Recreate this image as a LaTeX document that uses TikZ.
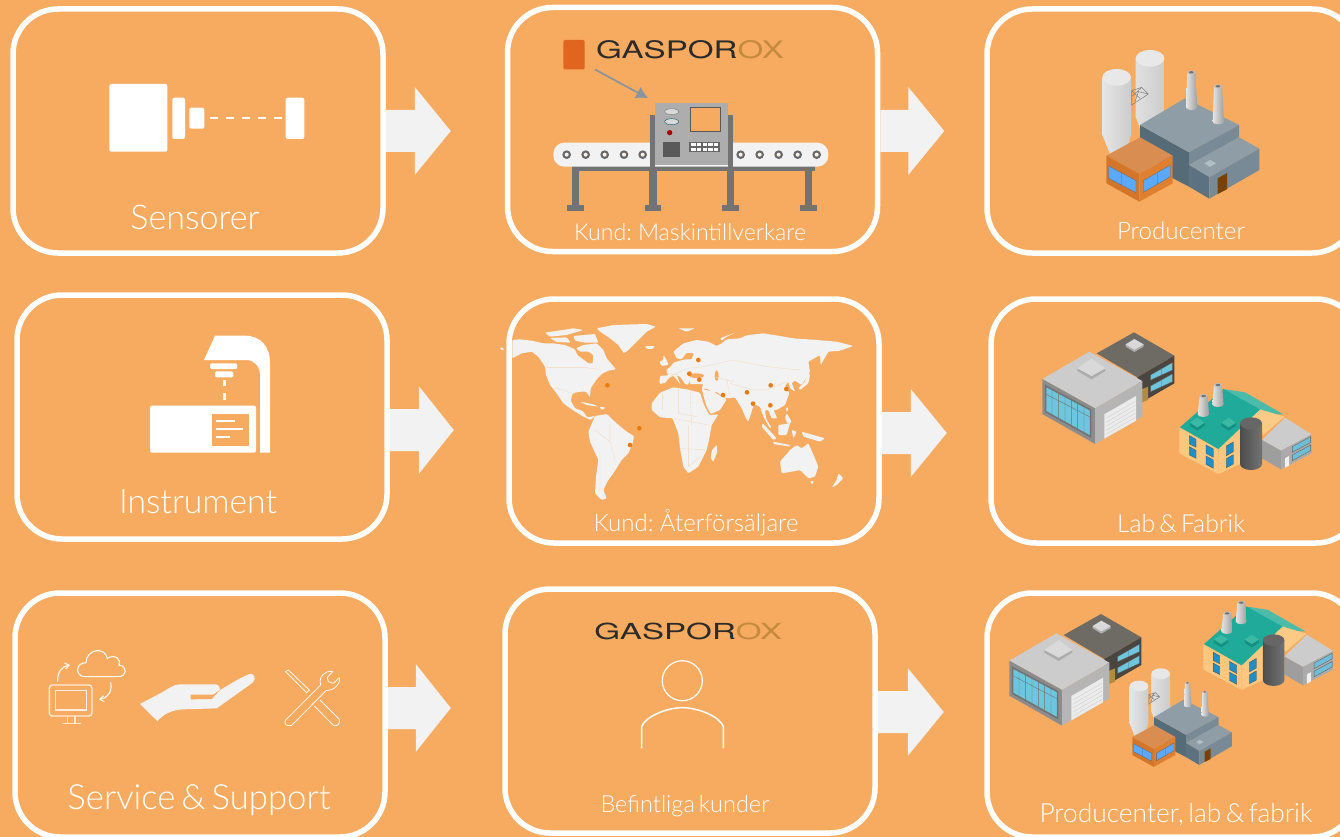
\documentclass[tikz,border=0pt]{standalone}
\usepackage{fontspec}
\setmainfont{Lato}[UprightFont=* Light]
\newfontfamily\logofont{TeX Gyre Heros}
\usetikzlibrary{arrows.meta}
\definecolor{bg}{HTML}{F7AB60}
\definecolor{barrowc}{HTML}{F2F2F2}
\definecolor{mapc}{HTML}{F2F2F2}
\definecolor{dotc}{HTML}{EC7A0C}
\definecolor{logodark}{HTML}{2B2B2B}
\definecolor{logoor}{HTML}{C48A3E}
\definecolor{leg}{HTML}{737373}
\tikzset{
  panel/.style={draw=white,line width=5.5pt,rounded corners=45pt,minimum width=370pt,minimum height=244pt,inner sep=0pt},
  barrow/.style={fill=barrowc},
  lbl/.style={text=white,anchor=base,inner sep=0pt},
  ico/.style={fill=white,rounded corners=2pt},
  thinico/.style={draw=white!92!bg,line width=1.1pt},
  logo/.style={inner sep=0pt,anchor=center},
  mapland/.style={fill=mapc,rounded corners=1pt},
  mapline/.style={draw=bg!35!mapc,line width=.35pt},
  citydot/.style={fill=dotc},
}
% block arrow leaving a panel: node, vertical offset, shaft length, head length
\newcommand\blockarr[4]{\fill[barrow] (#1.east) ++(0,#2) ++(0,-21) -- ++(#3,0) -- ++(0,-23) -- ++(#4,44) -- ++(-#4,44) -- ++(0,-23) -- ++(-#3,0) -- cycle;}
\newcommand\lab[4]{\node[lbl] (#1) at (#2) {\resizebox{#3pt}{!}{\fontsize{36}{40}\selectfont\spaceskip=.17em #4}};}
\newcommand\gasplogo[3]{\node[logo] (#1) at (#2) {\resizebox{188pt}{#3pt}{\logofont\textcolor{logodark}{GASPOR}\textcolor{logoor}{OX}}};}
% chimney: top x, top y, base x, base y
\newcommand\chim[4]{%
  \path[left color=black!10,right color=black!38] (#1-12,#2) -- (#3-17,#4) arc[start angle=180,end angle=360,x radius=17,y radius=-8] -- (#1+12,#2) -- cycle;
  \fill[black!25] (#1,#2) ellipse[x radius=12,y radius=6];
  \fill[black!55] (#1,#2) ellipse[x radius=7,y radius=3.5];}
\newcommand\factoryA{%
  % silos
  \path[left color=black!12,right color=black!20] (407,85) -- (407,260) -- (430,320) -- (480,320) -- (493,260) -- (493,85) -- cycle;
  \fill[black!9] (450,85) ellipse[x radius=43,y radius=25];
  \path[left color=black!10,right color=black!20] (307,142) -- (307,315) -- (330,372) -- (375,372) -- (393,315) -- (393,142) -- cycle;
  \fill[black!9] (350,142) ellipse[x radius=43,y radius=25];
  \draw[black!50,line width=.5pt] (395,182) -- (425,172) -- (445,192) -- (395,225) -- cycle (395,200) -- (425,172) (405,215) -- (415,185) -- (445,192) (395,182) -- (420,205);
  % main block
  \fill[fill={rgb,255:red,86;green,107;blue,120}] (420,285) -- (567,367) -- (567,470) -- (500,435) -- (420,345) -- cycle;
  \fill[fill={rgb,255:red,143;green,158;blue,166}] (420,285) -- (555,205) -- (717,285) -- (567,367) -- cycle;
  \fill[fill={rgb,255:red,120;green,138;blue,149}] (567,367) -- (717,285) -- (717,322) -- (567,405) -- cycle;
  % lower block
  \fill[fill={rgb,255:red,143;green,158;blue,166}] (567,405) -- (717,322) -- (778,356) -- (628,442) -- cycle;
  \fill[fill={rgb,255:red,93;green,114;blue,128}] (567,405) -- (628,442) -- (628,506) -- (567,470) -- cycle;
  \fill[fill={rgb,255:red,120;green,138;blue,149}] (628,442) -- (778,356) -- (778,420) -- (628,506) -- cycle;
  \fill[fill={rgb,255:red,122;green,66;blue,0}] (653,445) -- (681,429) -- (681,478) -- (653,492) -- cycle;
  \fill[fill={rgb,255:red,176;green,190;blue,197}] (613,400) -- (630,390) -- (648,400) -- (630,411) -- cycle;
  \chim{574}{127}{575}{232}
  \chim{654}{169}{655}{275}
  % orange block
  \fill[fill={rgb,255:red,217;green,141;blue,80}] (319,377) -- (420,322) -- (518,377) -- (418,432) -- cycle;
  \fill[fill={rgb,255:red,212;green,118;blue,42}] (319,377) -- (418,432) -- (418,515) -- (319,460) -- cycle;
  \fill[fill={rgb,255:red,222;green,128;blue,48}] (418,432) -- (518,377) -- (518,460) -- (418,515) -- cycle;
  \filldraw[fill={rgb,255:red,90;green,169;blue,255},draw=black!60,line width=.3pt] (326,408) -- (408,452) -- (408,488) -- (326,445) -- cycle (365,430) -- (365,467);
  \filldraw[fill={rgb,255:red,90;green,169;blue,255},draw=black!60,line width=.3pt] (430,452) -- (511,405) -- (511,440) -- (430,487) -- cycle (472,429) -- (472,464);
}
\newcommand\factoryB{%
  \fill[fill={rgb,255:red,110;green,106;blue,100}] (290,100) -- (402,37) -- (523,107) -- (412,172) -- cycle;
  \fill[fill={rgb,255:red,74;green,69;blue,64}] (412,172) -- (523,107) -- (523,190) -- (428,245) -- (412,245) -- cycle;
  \fill[fill={rgb,255:red,176;green,139;blue,64}] (425,208) -- (444,200) -- (444,240) -- (425,247) -- cycle;
  \filldraw[fill={rgb,255:red,110;green,198;blue,222},draw=black!60,line width=.3pt] (452,165) -- (517,128) -- (517,150) -- (452,180) -- cycle (484,147) -- (484,165);
  \filldraw[fill={rgb,255:red,110;green,198;blue,222},draw=black!60,line width=.3pt] (452,198) -- (517,162) -- (517,185) -- (452,215) -- cycle (484,180) -- (484,200);
  \fill[black!32] (377,73) -- (377,80) -- (403,96) -- (431,80) -- (431,73) -- cycle;
  \fill[black!15] (377,73) -- (403,57) -- (431,73) -- (403,89) -- cycle;
  % big grey hall
  \fill[black!20] (127,177) -- (268,95) -- (427,183) -- (285,265) -- cycle;
  \fill[black!45] (127,177) -- (285,265) -- (285,372) -- (127,282) -- cycle;
  \fill[black!29] (285,265) -- (427,183) -- (427,290) -- (285,372) -- cycle;
  \filldraw[fill={rgb,255:red,110;green,198;blue,222},draw=black!55,line width=1.6pt] (137,198) -- (272,270) -- (272,350) -- (137,275) -- cycle;
  \draw[black!55,line width=.4pt] (137,222) -- (272,292) (156,209) -- (156,285) (176,219) -- (176,296) (195,230) -- (195,307) (214,240) -- (214,318) (233,250) -- (233,329) (252,260) -- (252,340);
  \fill[black!8] (313,283) -- (408,228) -- (408,302) -- (313,356) -- cycle;
  \draw[black!20,line width=.3pt] (318,295) -- (406,244) (318,307) -- (406,256) (318,319) -- (406,268) (318,331) -- (406,280) (318,343) -- (406,292);
  \fill[black!32] (232,145) -- (232,153) -- (275,178) -- (316,153) -- (316,145) -- cycle;
  \fill[black!15] (232,145) -- (275,115) -- (316,145) -- (275,168) -- cycle;
}
\newcommand\factoryC{%
  \fill[fill={rgb,255:red,77;green,187;blue,170}] (670,207) -- (735,217) -- (850,283) -- (755,283) -- cycle;
  \fill[fill={rgb,255:red,251;green,203;blue,133}] (780,268) -- (853,290) -- (790,345) -- (755,290) -- cycle;
  \fill[fill={rgb,255:red,253;green,199;blue,127}] (538,322) -- (655,387) -- (655,462) -- (538,400) -- cycle;
  \fill[fill={rgb,255:red,253;green,199;blue,127}] (655,387) -- (725,320) -- (725,430) -- (655,462) -- cycle;
  \fill[fill={rgb,255:red,31;green,170;blue,154}] (540,322) -- (670,207) -- (780,268) -- (655,387) -- cycle;
  \fill[fill={rgb,255:red,20;green,145;blue,130}] (570,308) -- (570,318) -- (592,332) -- (614,318) -- (614,308) -- cycle;
  \fill[fill={rgb,255:red,60;green,185;blue,165}] (570,308) -- (592,293) -- (614,308) -- (592,322) -- cycle;
  \fill[fill={rgb,255:red,20;green,145;blue,130}] (664,308) -- (664,318) -- (686,332) -- (708,318) -- (708,308) -- cycle;
  \fill[fill={rgb,255:red,60;green,185;blue,165}] (664,308) -- (686,293) -- (708,308) -- (686,322) -- cycle;
  \chim{611}{228}{610}{283}
  \chim{654}{195}{654}{253}
  \foreach \p in {{(568,347) -- (588,358) -- (588,382) -- (568,372)},{(568,380) -- (588,391) -- (588,415) -- (568,405)},{(618,375) -- (640,387) -- (640,412) -- (618,400)},{(618,408) -- (640,420) -- (640,445) -- (618,433)},{(679,378) -- (700,366) -- (700,395) -- (679,407)},{(679,416) -- (700,404) -- (700,432) -- (679,443)}}
    {\filldraw[fill={rgb,255:red,31;green,143;blue,200},draw=black!70,line width=.3pt] \p -- cycle;}
  % small grey building
  \fill[black!20] (786,360) -- (855,293) -- (935,343) -- (843,392) -- cycle;
  \fill[black!38] (786,360) -- (843,392) -- (843,448) -- (786,415) -- cycle;
  \fill[black!33] (843,392) -- (935,343) -- (935,400) -- (843,448) -- cycle;
  \filldraw[fill={rgb,255:red,110;green,190;blue,215},draw=black!60,line width=.4pt] (877,380) -- (932,350) -- (932,367) -- (877,397) -- cycle;
  \filldraw[fill={rgb,255:red,110;green,190;blue,215},draw=black!60,line width=.4pt] (877,405) -- (932,375) -- (932,392) -- (877,422) -- cycle;
  \fill[black!6] (855,415) -- (867,408) -- (867,437) -- (855,443) -- cycle;
  % tank
  \path[left color=black!70,right color=black!55] (720,310) -- (720,432) arc[start angle=180,end angle=360,x radius=33,y radius=-18] -- (786,310) -- cycle;
  \fill[black!60] (753,310) ellipse[x radius=33,y radius=18];
}
\begin{document}
\begin{tikzpicture}[x=1pt,y=-1pt]
\useasboundingbox (0,0) rectangle (1340,837);
\fill[bg] (0,0) rectangle (1340,837);

% panels
\node[panel] (s1) at (198,131) {};
\node[panel] (m1) at (692.5,129.5) {};
\node[panel] (r1) at (1172,131) {};
\node[panel] (s2) at (202,417) {};
\node[panel] (m2) at (694,421) {};
\node[panel] (r2) at (1176,421) {};
\node[panel] (s3) at (200,715) {};
\node[panel] (m3) at (690,711) {};
\node[panel] (r3) at (1172,715) {};

% block arrows
\blockarr{s1}{0}{29}{36}
\blockarr{m1}{1.5}{28}{36}
\blockarr{s2}{13}{29}{35}
\blockarr{m2}{12}{29}{36}
\blockarr{s3}{-7}{28}{35}
\blockarr{m3}{1}{30}{36}

% labels
\lab{t1}{195,229}{129}{Sensorer}
\lab{t2}{690,240}{232}{Kund: Maskintillverkare}
\lab{t3}{1181,239}{128}{Producenter}
\lab{t4}{198,513}{158}{Instrument}
\lab{t5}{696,531}{205}{Kund: Återförsäljare}
\lab{t6}{1181,532}{128}{Lab \& Fabrik}
\lab{t7}{199,809}{263}{Service \& Support}
\lab{t8}{685,812}{169}{Befintliga kunder}
\lab{t9}{1176,822}{273}{Producenter, lab \& fabrik}

% sensor icon
\fill[ico] (109.3,84) rectangle (167.3,151.7);
\fill[ico] (172.3,97.7) rectangle (185,139);
\fill[ico] (189.3,107.7) rectangle (204.3,128.7);
\fill[ico] (285.7,97.7) rectangle (304.3,139);
\foreach \xx in {210,226,242,258,274} \fill[white] (\xx,116.6) rectangle +(8,2.8);

% instrument icon
\begin{scope}[shift={(130,325)},scale=1/3]
  \fill[white] (222,105) -- (255,32) -- (345,32) .. controls (395,32) and (420,70) .. (420,110) -- (420,383) -- (390,383) -- (390,150) .. controls (390,125) and (372,105) .. (350,105) -- cycle;
  \fill[ico] (240,115) rectangle (322,132);
  \fill[ico] (255,139) rectangle (310,157);
  \fill[white] (278,165) rectangle (288,183);
  \fill[white] (278,203) rectangle (288,225);
  \fill[ico] (60,242) rectangle (378,383);
  \fill[bg] (245,267) rectangle (358,362);
  \fill[white] (257,285) rectangle (315,291);
  \fill[white] (257,310) rectangle (340,316);
  \fill[white] (257,334) rectangle (300,340);
\end{scope}

% service icons
\begin{scope}[shift={(20,630)},scale=1/3]
  \draw[thinico,rounded corners=3pt,line width=1.4pt,draw=white!75!bg] (88,165) rectangle (216,258);
  \draw[thinico,line width=1.2pt,draw=white!80!bg] (106,182) rectangle (200,240);
  \draw[thinico,draw=white!70!bg] (142,258) -- (142,280) (165,258) -- (165,280);
  \draw[thinico,line width=1.6pt,draw=white!70!bg] (125,280) -- (182,280);
  \draw[thinico] (195,140) .. controls (165,140) and (165,98) .. (198,98) .. controls (200,55) and (255,50) .. (262,85) .. controls (285,70) and (305,90) .. (297,105) .. controls (325,110) and (320,140) .. (295,140) -- cycle;
  \draw[thinico,-{Straight Barb[length=4pt,width=6pt]}] (113,155) .. controls (112,125) and (125,110) .. (150,105);
  \draw[thinico,-{Straight Barb[length=4pt,width=6pt]}] (272,157) .. controls (278,185) and (262,205) .. (237,208);
  \fill[barrowc] (360,222) -- (430,185) .. controls (450,172) and (465,163) .. (480,163) -- (585,163) .. controls (598,163) and (600,172) .. (600,180) -- (660,145) -- (688,132) .. controls (700,128) and (712,145) .. (698,158) -- (590,235) -- (490,238) .. controls (450,240) and (430,255) .. (412,273) -- cycle;
  \fill[bg] (512,194) -- (580,194) -- (600,180) -- (575,207) -- (512,208) -- cycle;
  \draw[thinico,line width=.8pt] (797,125) -- (805,120) -- (868,180) -- (860,188) -- cycle;
  \draw[thinico,line width=.8pt] (900,210) -- (958,268) .. controls (962,280) and (950,292) .. (940,286) -- (883,228);
  \draw[thinico,line width=.8pt] (797,270) .. controls (790,280) and (800,292) .. (815,286) -- (918,182) .. controls (940,182) and (962,165) .. (958,143) -- (940,160) -- (925,155) -- (922,142) -- (938,125) .. controls (915,120) and (895,140) .. (902,165) -- cycle;
\end{scope}

% machine with logo
\gasplogo{logoa}{690,50}{18}
\fill[fill={rgb,255:red,224;green,101;blue,31},rounded corners=2pt] (563.3,40) rectangle (584.7,69.5);
\coordinate (ptrstart) at (595,69.5);
\coordinate (ptrend) at (648.3,98.3);
\draw[draw={rgb,255:red,138;green,148;blue,156},line width=1.7pt,-{Latex[length=12pt,width=13pt]}] (ptrstart) -- (ptrend);
\begin{scope}[shift={(500,0)},scale=1/3]
  \foreach \xx in {226,459,692,925} {
    \fill[leg] (\xx-11,510) rectangle (\xx+11,615);
    \fill[leg] (\xx-25,615) rectangle (\xx+25,632);
  }
  \fill[leg] (215,498) rectangle (945,513);
  \fill[white!95!black,rounded corners=11pt] (160,428) rectangle (985,500);
  \foreach \xx in {200,257,314,372,428,722,779,836,893,950} {
    \fill[black!60] (\xx,464) circle (13);
    \fill[white!85!bg] (\xx,464) circle (6);
  }
  \fill[leg] (450,345) rectangle (466,500);
  \fill[leg] (685,345) rectangle (700,500);
  \fill[black!32] (465,310) rectangle (685,495);
  \filldraw[fill=bg,draw=black!65,line width=.8pt] (570,323) rectangle (660,394);
  \fill[black!65] (490,425) rectangle (540,470);
  \fill[black!60] (567,425) rectangle (660,455);
  \foreach \xx in {574,591,608,625,642} \foreach \yy in {430,443} \fill[white] (\xx,\yy) rectangle +(13,9);
  \filldraw[fill=white!85!black,draw=black!60,line width=.3pt] (515,335) ellipse[x radius=21,y radius=9];
  \filldraw[fill=white!85!black,draw=teal!70!black,line width=.4pt] (515,365) ellipse[x radius=21,y radius=9];
  \fill[red!65!black] (509,398) circle (8);
\end{scope}

% world map
\begin{scope}[shift={(500,310)},scale=1/3]
  % Americas
  \fill[mapland] (0,112) -- (12,115) -- (12,120) -- (0,118) -- cycle;
  \fill[mapland] (37,90) -- (60,88) -- (95,92) -- (130,100) -- (160,100) -- (195,105) -- (225,118) -- (232,135) -- (265,160) -- (278,160) -- (280,135) -- (265,125) -- (240,125) -- (228,115) -- (250,105) -- (290,100) -- (310,120) -- (320,145) -- (348,178) -- (325,182) -- (305,192) -- (290,208) -- (272,235) -- (270,262) -- (258,245) -- (240,245) -- (218,250) -- (212,272) -- (225,295) -- (248,303) -- (262,322) -- (285,318) -- (272,330) -- (250,320) -- (215,298) -- (190,280) -- (170,250) -- (150,225) -- (138,195) -- (135,170) -- (115,140) -- (95,125) -- (65,130) -- (37,145) -- cycle;
  \fill[mapland] (285,318) -- (320,312) -- (350,340) -- (380,365) -- (402,378) -- (398,400) -- (385,430) -- (365,450) -- (340,490) -- (325,510) -- (310,540) -- (320,565) -- (305,570) -- (285,550) -- (288,500) -- (295,450) -- (270,395) -- (265,365) -- cycle;
  \fill[mapland] (290,55) -- (340,45) -- (440,42) -- (468,50) -- (440,65) -- (420,85) -- (385,120) -- (372,130) -- (355,105) -- (330,85) -- (300,65) -- cycle;
  \fill[mapland] (135,68) -- (220,55) -- (250,60) -- (200,75) -- (150,80) -- cycle;
  \fill[mapland] (220,78) -- (285,72) -- (295,98) -- (255,98) -- (225,92) -- cycle;
  \fill[mapland] (150,84) -- (200,82) -- (212,98) -- (170,96) -- cycle;
  \fill[mapland] (240,275) -- (280,283) -- (295,290) -- (260,285) -- cycle;
  \fill[mapland] (298,290) -- (318,293) -- (305,300) -- cycle;
  % Africa
  \fill[mapland] (455,280) -- (480,248) -- (520,232) -- (560,238) -- (600,248) -- (612,285) -- (628,315) -- (655,313) -- (635,345) -- (628,385) -- (620,420) -- (595,470) -- (565,490) -- (550,470) -- (540,415) -- (535,370) -- (518,325) -- (480,322) -- (455,300) -- cycle;
  \fill[mapland] (650,405) -- (652,425) -- (640,455) -- (632,445) -- (636,420) -- cycle;
  % Eurasia
  \fill[mapland] (478,218) -- (480,198) -- (505,196) -- (498,180) -- (512,170) -- (520,158) -- (540,152) -- (556,148) -- (575,148) -- (582,130) -- (560,128) -- (545,148) -- (530,145) -- (520,125) -- (550,100) -- (590,90) -- (625,95) -- (650,108) -- (665,100) -- (680,88) -- (720,85) -- (740,76) -- (790,70) -- (840,78) -- (880,85) -- (950,90) -- (1010,95) -- (1060,108) -- (1020,122) -- (985,125) -- (962,165) -- (960,135) -- (925,155) -- (930,185) -- (905,225) -- (885,212) -- (875,218) -- (885,245) -- (870,235) -- (865,215) -- (855,228) -- (868,250) -- (855,285) -- (830,300) -- (820,300) -- (832,325) -- (815,325) -- (805,300) -- (795,300) -- (798,325) -- (815,355) -- (808,352) -- (790,320) -- (780,290) -- (762,283) -- (745,335) -- (738,325) -- (725,295) -- (705,262) -- (680,265) -- (665,258) -- (650,245) -- (640,250) -- (620,235) -- (605,238) -- (610,222) -- (570,222) -- (568,210) -- (565,225) -- (555,222) -- (540,200) -- (530,195) -- (542,225) -- (535,215) -- (520,197) -- (505,205) -- (497,218) -- (480,222) -- cycle;
  \fill[mapland] (605,236) -- (640,246) -- (652,252) -- (680,268) -- (660,300) -- (632,312) -- (618,285) -- cycle;
  \fill[bg] (590,197) ellipse[x radius=22,y radius=7];
  \fill[bg] (650,197) ellipse[x radius=6,y radius=16];
  % islands
  \fill[mapland] (490,135) -- (500,150) -- (505,165) -- (485,168) -- (478,155) -- (490,150) -- cycle;
  \fill[mapland] (435,108) -- (465,108) -- (455,118) -- (440,116) -- cycle;
  \fill[mapland] (535,55) -- (585,55) -- (560,65) -- cycle;
  \fill[mapland] (660,85) -- (705,68) -- (680,80) -- (665,92) -- cycle;
  \fill[mapland] (895,235) -- (915,215) -- (922,180) -- (930,195) -- (925,220) -- (900,240) -- cycle;
  \fill[mapland] (860,290) -- (866,298) -- (858,305) -- cycle;
  \fill[mapland] (860,310) -- (875,335) -- (865,345) -- (855,325) -- cycle;
  \fill[mapland] (788,340) -- (830,385) -- (820,390) -- (785,350) -- cycle;
  \fill[mapland] (820,395) -- (870,405) -- (870,410) -- (820,402) -- cycle;
  \fill[mapland] (835,345) -- (870,340) -- (860,375) -- (835,375) -- cycle;
  \fill[mapland] (875,360) -- (890,365) -- (880,385) -- cycle;
  \fill[mapland] (905,365) -- (975,385) -- (960,395) -- (910,380) -- cycle;
  \fill[mapland] (840,455) -- (870,420) -- (890,405) -- (905,415) -- (925,400) -- (945,445) -- (955,470) -- (945,500) -- (925,505) -- (900,480) -- (875,485) -- (845,490) -- cycle;
  \fill[mapland] (930,513) -- (942,513) -- (936,524) -- cycle;
  \fill[mapland] (1015,490) -- (1030,505) -- (1010,525) -- (995,533) -- (1010,510) -- cycle;
  % borders
  \draw[mapline] (140,172) -- (250,172) -- (300,178);
  \draw[mapline] (165,235) -- (190,240) -- (215,250);
  \draw[mapline] (610,170) -- (700,150) -- (800,170) -- (900,180);
  \draw[mapline] (690,220) -- (760,240) -- (800,240) -- (860,215);
  \draw[mapline] (488,248) -- (488,300) (535,235) -- (535,310) -- (590,320) (570,240) -- (575,345) (520,325) -- (625,345) (540,415) -- (620,420) (565,345) -- (565,470) -- (600,440);
  \draw[mapline] (285,360) -- (330,395) -- (345,450) (300,440) -- (300,540) (330,340) -- (330,395);
  \draw[mapline] (510,200) -- (560,175) -- (610,170) (500,190) -- (535,195) (640,200) -- (700,215) (680,205) -- (690,260);
  % cities
  \foreach \xx/\yy in {322/226,418/355,390/405,595/150,568/191,598/209,669/255,741/247,759/281,811/286,812/226,859/237}
    \fill[citydot] (\xx,\yy) circle (7);
\end{scope}

% buildings
\begin{scope}[shift={(1000,30)},scale=1/3]\factoryA\end{scope}
\begin{scope}[shift={(1000,320)},scale=1/3]\factoryB\end{scope}
\begin{scope}[shift={(1000,320)},scale=1/3]\factoryC\end{scope}
\begin{scope}[shift={(967,601.67)},scale=1/3]\factoryB\end{scope}
\begin{scope}[shift={(1027.6,538.9)},scale=.3267]\factoryC\end{scope}
\begin{scope}[shift={(1063.15,655.3)},scale=.2167]\factoryA\end{scope}

% existing customers
\gasplogo{logob}{688.3,631}{16.5}
\draw[white,line width=1.2pt] (682.3,680.7) circle (20);
\begin{scope}[shift={(580,610)},scale=1/3]
  \draw[white,line width=1.5pt] (185,415) -- (185,350) .. controls (195,320) and (260,293) .. (307,293) .. controls (355,293) and (420,320) .. (430,350) -- (430,415);
\end{scope}
\end{tikzpicture}
\end{document}
